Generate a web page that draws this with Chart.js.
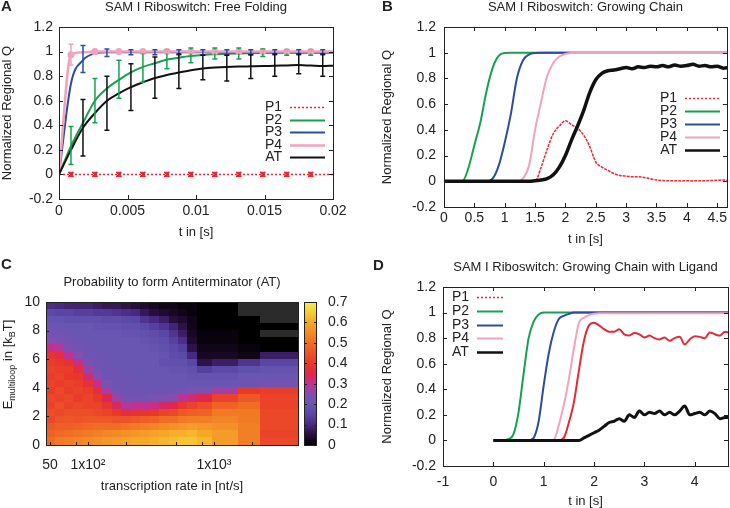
<!DOCTYPE html>
<html>
<head>
<meta charset="utf-8">
<script src="https://cdn.jsdelivr.net/npm/chart.js@4.4.0/dist/chart.umd.min.js"></script>
<style>
  body{margin:0;background:#fff;width:730px;height:508px;position:relative;overflow:hidden}
  .panel{position:absolute;width:365px;height:254px}
</style>
</head>
<body>
<div class="panel" style="left:0;top:0"><canvas id="chartA" width="365" height="254"></canvas></div>
<div class="panel" style="left:365px;top:0"><canvas id="chartB" width="365" height="254"></canvas></div>
<div class="panel" style="left:0;top:254px"><canvas id="chartC" width="365" height="254"></canvas></div>
<div class="panel" style="left:365px;top:254px"><canvas id="chartD" width="365" height="254"></canvas></div>
<script>
// ---- panel A: free folding, t in s, error bars on every other point
const tA = [0, 0.000875, 0.00175, 0.002625, 0.0035, 0.004375, 0.00525, 0.006125, 0.007, 0.007875, 0.00875, 0.009625,
  0.0105, 0.011375, 0.01225, 0.013125, 0.014, 0.014875, 0.01575, 0.016625, 0.0175, 0.018375, 0.01925, 0.02];
const p1A = [0,0,0,0,0,0,0,0,0,0,0,0,0,0,0,0,0,0,0,0,0,0,0,0];
const p2A = [0,0.23,0.42,0.6,0.7,0.77,0.83,0.875,0.905,0.935,0.95,0.963,0.972,0.978,0.982,0.985,0.987,0.989,0.99,0.99,0.99,0.99,0.99,0.99];
const p3A = [0,0.74,0.93,0.985,0.995,0.995,0.995,0.995,0.995,0.995,0.995,0.995,0.995,0.995,0.995,0.995,0.995,0.995,0.995,0.995,0.995,0.995,0.995,0.995];
const p4A = [0,0.975,0.995,1,1,1,1,1,1,1,1,1,1,1,1,1,1,1,1,1,1,1,1,1];
const atA = [0,0.2,0.38,0.5,0.6,0.66,0.71,0.75,0.785,0.81,0.83,0.848,0.862,0.87,0.875,0.878,0.88,0.882,0.885,0.887,0.89,0.886,0.882,0.885];
const p1LoA = [null,-0.015,null,-0.015,null,-0.015,null,-0.015,null,-0.015,null,-0.015,null,-0.015,null,-0.015,null,-0.015,null,-0.015,null,-0.015,null,null];
const p1HiA = [null,0.015,null,0.015,null,0.015,null,0.015,null,0.015,null,0.015,null,0.015,null,0.015,null,0.015,null,0.015,null,0.015,null,null];
const p2LoA = [null,0.08,null,0.42,null,0.62,null,0.75,null,0.86,null,0.91,null,0.94,null,0.94,null,0.96,null,0.97,null,0.97,null,null];
const p2HiA = [null,0.39,null,0.78,null,0.93,null,0.99,null,1.01,null,1.03,null,1.03,null,1.03,null,1.02,null,1.01,null,1.01,null,null];
const p3LoA = [null,null,0.83,null,0.96,null,0.975,null,0.975,null,0.975,null,0.975,null,0.975,null,0.975,null,0.975,null,0.975,null,0.975,null];
const p3HiA = [null,null,1.05,null,1.02,null,1.015,null,1.015,null,1.015,null,1.015,null,1.015,null,1.015,null,1.015,null,1.015,null,1.015,null];
const p4LoA = [null,0.89,null,0.98,null,0.99,null,0.99,null,0.99,null,0.99,null,0.99,null,0.99,null,0.99,null,0.99,null,0.99,null,null];
const p4HiA = [null,1.06,null,1.01,null,1.01,null,1.01,null,1.01,null,1.01,null,1.01,null,1.01,null,1.01,null,1.01,null,1.01,null,null];
const atLoA = [null,null,0.15,null,0.36,null,0.52,null,0.62,null,0.7,null,0.77,null,0.76,null,0.78,null,0.8,null,0.82,null,0.8,null];
const atHiA = [null,null,0.61,null,0.8,null,0.9,null,0.955,null,0.98,null,0.97,null,0.97,null,0.975,null,0.98,null,0.98,null,0.98,null];

// ---- panels B and D: growing chain, sampled every 0.1 s
const tGrow = [0,0.1,0.2,0.3,0.4,0.5,0.6,0.7,0.8,0.9,1,1.1,1.2,1.3,1.4,1.5,1.6,1.7,1.8,1.9,2,2.1,2.2,2.3,
  2.4,2.5,2.6,2.7,2.8,2.9,3,3.1,3.2,3.3,3.4,3.5,3.6,3.7,3.8,3.9,4,4.1,4.2,4.3,4.4,4.5,4.6,4.7];

const p1B = [0,0,0,0,0,0,0,0,0,0,0,0,0,0,0,0,0.11,0.25,0.37,0.43,0.47,0.44,0.41,0.36,
  0.27,0.15,0.11,0.085,0.06,0.045,0.04,0.035,0.035,0.03,0.02,0.01,0.006,0.004,0.005,0.003,0.004,0.003,0.005,0.004,0.006,0.008,0.01,0.006];
const p2B = [0,0,0,0,0.1,0.28,0.46,0.7,0.88,0.975,0.998,1,1,1,1,1,1,1,1,1,1,1,1,1,
  1,1,1,1,1,1,1,1,1,1,1,1,1,1,1,1,1,1,1,1,1,1,1,1];
const p3B = [0,0,0,0,0,0,0,0,0.02,0.12,0.3,0.52,0.8,0.94,0.985,0.998,1,1,1,1,1,1,1,1,
  1,1,1,1,1,1,1,1,1,1,1,1,1,1,1,1,1,1,1,1,1,1,1,1];
const p4B = [0,0,0,0,0,0,0,0,0,0,0,0,0,0.02,0.12,0.4,0.62,0.82,0.92,0.97,0.99,0.998,0.998,0.998,
  0.998,0.998,0.998,0.998,0.998,0.998,0.998,0.998,0.998,0.998,0.998,0.998,0.998,0.998,0.998,0.998,0.998,0.998,0.998,0.998,0.998,0.998,0.998,0.998];
const atB = [0,0,0,0,0,0,0,0,0,0,0,0,0,0,0,0.005,0.01,0.02,0.05,0.11,0.2,0.32,0.43,0.55,
  0.69,0.79,0.84,0.86,0.865,0.875,0.885,0.875,0.89,0.885,0.895,0.89,0.9,0.89,0.905,0.895,0.9,0.91,0.895,0.9,0.89,0.895,0.88,0.885];

const p1D = [0,0,0,0,0,0,0,0,0,0,0,0,0,0,0.02,0.14,0.3,0.55,0.78,0.9,0.92,0.9,0.87,0.85,
  0.85,0.87,0.83,0.82,0.84,0.83,0.805,0.82,0.8,0.79,0.805,0.78,0.8,0.81,0.75,0.79,0.815,0.81,0.8,0.845,0.83,0.82,0.85,0.84];
const p2D = [0,0,0,0.01,0.05,0.22,0.52,0.8,0.93,0.985,1,1,1,1,1,1,1,1,1,1,1,1,1,1,
  1,1,1,1,1,1,1,1,1,1,1,1,1,1,1,1,1,1,1,1,1,1,1,1];
const p3D = [0,0,0,0,0,0,0,0,0.02,0.15,0.43,0.68,0.85,0.95,0.975,0.99,1,1,1,1,1,1,1,1,
  1,1,1,1,1,1,1,1,1,1,1,1,1,1,1,1,1,1,1,1,1,1,1,1];
const p4D = [0,0,0,0,0,0,0,0,0,0,0,0,0.005,0.12,0.28,0.48,0.72,0.92,0.96,0.98,0.99,0.995,0.995,0.995,
  0.995,0.995,0.995,0.995,0.995,0.995,0.995,0.995,0.995,0.995,0.995,0.995,0.995,0.995,0.995,0.995,0.995,0.995,0.995,0.995,0.995,0.995,0.995,0.995];
const atD = [0,0,0,0,0,0,0,0,0,0,0,0,0,0,0,0,0,0,0.02,0.04,0.06,0.08,0.11,0.14,
  0.15,0.17,0.15,0.2,0.18,0.23,0.2,0.22,0.21,0.23,0.2,0.22,0.2,0.23,0.27,0.2,0.21,0.22,0.2,0.23,0.21,0.17,0.18,0.18];

// ---- panel C: probability to form AT
// bin edges of the transcription rate (nt/s) and of E_multiloop (kBT, top to bottom)
const rateEdges = [46.4,55,65,77,92,110,130,155,185,220,260,310,370,440,520,620,740,980,1550,2320,4640];
const energyEdges = [10,9.5,9,8.5,8,7.5,7,6.5,6,5.5,5,4.5,4,3.5,3,2.5,2,1.5,1,0.5,0];
// one array per rate bin, values from E=10 down to E=0 (null = no data)
const atProb = [
  [0.11,0.16,0.19,0.21,0.22,0.25,0.31,0.39,0.41,0.42,0.41,0.42,0.41,0.43,0.42,0.44,0.43,0.46,0.48,0.5],
  [0.10,0.15,0.19,0.2,0.22,0.24,0.29,0.37,0.4,0.41,0.42,0.41,0.43,0.42,0.44,0.43,0.45,0.47,0.49,0.52],
  [0.09,0.15,0.18,0.2,0.21,0.22,0.24,0.3,0.38,0.41,0.4,0.42,0.41,0.43,0.42,0.44,0.46,0.47,0.5,0.53],
  [0.09,0.14,0.18,0.2,0.2,0.21,0.22,0.25,0.31,0.37,0.4,0.41,0.42,0.41,0.43,0.44,0.45,0.48,0.51,0.54],
  [0.09,0.14,0.18,0.2,0.2,0.2,0.21,0.21,0.23,0.27,0.32,0.38,0.41,0.42,0.42,0.44,0.46,0.49,0.52,0.55],
  [0.08,0.13,0.18,0.19,0.2,0.2,0.2,0.21,0.21,0.22,0.25,0.31,0.37,0.4,0.42,0.43,0.46,0.5,0.53,0.56],
  [0.07,0.13,0.17,0.19,0.2,0.2,0.2,0.2,0.21,0.21,0.21,0.23,0.28,0.34,0.39,0.42,0.46,0.5,0.54,0.57],
  [0.07,0.12,0.17,0.19,0.2,0.2,0.2,0.2,0.2,0.21,0.21,0.21,0.22,0.27,0.33,0.4,0.45,0.5,0.55,0.58],
  [0.06,0.11,0.16,0.18,0.19,0.2,0.2,0.2,0.2,0.2,0.21,0.21,0.21,0.22,0.29,0.37,0.45,0.51,0.56,0.59],
  [0.05,0.1,0.15,0.18,0.19,0.2,0.2,0.2,0.2,0.2,0.2,0.21,0.21,0.22,0.3,0.38,0.46,0.52,0.57,0.6],
  [0.04,0.07,0.12,0.16,0.18,0.19,0.2,0.2,0.2,0.2,0.2,0.2,0.21,0.22,0.3,0.39,0.47,0.53,0.58,0.6],
  [0.03,0.05,0.1,0.14,0.17,0.18,0.19,0.2,0.2,0.2,0.2,0.2,0.21,0.23,0.31,0.4,0.48,0.54,0.59,0.61],
  [0.02,0.04,0.08,0.12,0.15,0.17,0.18,0.19,0.18,0.2,0.2,0.2,0.21,0.24,0.33,0.42,0.5,0.55,0.6,0.62],
  [0.02,0.03,0.05,0.09,0.12,0.14,0.16,0.17,0.18,0.19,0.2,0.2,0.21,0.25,0.35,0.43,0.5,0.56,0.61,0.63],
  [0.01,0.02,0.04,0.06,0.08,0.11,0.14,0.16,0.18,0.19,0.2,0.2,0.22,0.3,0.4,0.46,0.52,0.57,0.61,0.64],
  [0.01,0.01,0.02,0.02,0.03,0.04,0.06,0.1,0.15,0.18,0.19,0.2,0.23,0.32,0.42,0.47,0.53,0.58,0.62,0.64],
  [0,0,0,0,0.01,0.01,0.02,0.03,0.06,0.14,0.19,0.2,0.24,0.35,0.44,0.48,0.53,0.57,0.6,0.62],
  [0,0,0,0,0.01,0.01,0.02,0.03,0.08,0.16,0.19,0.2,0.28,0.42,0.48,0.52,0.54,0.56,0.58,0.58],
  [null,null,0,0,0,0,0.01,0.02,0.12,0.18,0.2,0.21,0.4,0.46,0.5,0.52,0.52,0.53,0.53,0.53],
  [null,null,null,0,null,0,0,0.08,0.15,0.19,0.2,0.22,0.41,0.42,0.42,0.43,0.43,0.43,0.42,0.43]
];
const rateTickMarks = [50,80,100,200,500,800,1000,2000];
const rateLabels = {50:'50', 100:'1x10²', 1000:'1x10³'};
// colour map of the AT probability
const paletteStops = [
  [0.00,[0,0,0]],[0.05,[40,14,60]],[0.10,[72,40,130]],[0.15,[90,70,165]],[0.20,[104,86,178]],
  [0.25,[130,78,176]],[0.30,[190,50,150]],[0.34,[222,38,80]],[0.40,[232,56,42]],
  [0.50,[240,110,36]],[0.60,[245,168,40]],[0.70,[248,238,72]]
];

const RED = '#e22a38', GREEN = '#16a152', BLUE = '#2c4c9e', PINK = '#f2a3bb', BLACK = '#111';
const FONT = '"Liberation Sans", Arial, Helvetica, sans-serif';
const TICK = {size: 14};
Chart.defaults.font.family = FONT;
Chart.defaults.font.size = 13;
Chart.defaults.color = '#222';

function colorAt(v){
  if (v <= paletteStops[0][0]) return 'rgb(0,0,0)';
  for (let i = 1; i < paletteStops.length; i++) {
    const [v1, c1] = paletteStops[i];
    if (v <= v1) {
      const [v0, c0] = paletteStops[i-1];
      const f = (v - v0) / (v1 - v0);
      return 'rgb(' + c0.map((c,k) => Math.round(c + (c1[k]-c)*f)).join(',') + ')';
    }
  }
  return 'rgb(' + paletteStops[paletteStops.length-1][1].join(',') + ')';
}

// titles and panel letters
const panelTitle = {
  id: 'panelTitle',
  afterDraw(chart, args, o){
    const {ctx, chartArea: a} = chart;
    ctx.save();
    ctx.fillStyle = '#222';
    ctx.textBaseline = 'middle';
    ctx.font = '13px ' + FONT;
    ctx.textAlign = 'center';
    ctx.fillText(o.text, (a.left + a.right) / 2, o.y);
    ctx.font = 'bold 15px ' + FONT;
    ctx.textAlign = 'left';
    ctx.fillText(o.letter, o.lx, o.ly);
    ctx.restore();
  }
};

// key drawn inside the plot, one row per dataset
const boxLegend = {
  id: 'boxLegend',
  afterDraw(chart, args, o){
    if (!o.rows) return;
    const ctx = chart.ctx;
    ctx.save();
    ctx.font = '14px ' + FONT;
    ctx.fillStyle = '#222';
    ctx.textBaseline = 'middle';
    ctx.textAlign = o.align;
    chart.data.datasets.forEach((ds, i) => {
      const y = o.rows[i];
      ctx.fillText(ds.label, o.textX, y);
      ctx.strokeStyle = ds.borderColor;
      ctx.lineWidth = ds.keyWidth || ds.borderWidth;
      ctx.setLineDash(ds.keyDash || []);
      ctx.beginPath();
      ctx.moveTo(o.x0, y + 0.5);
      ctx.lineTo(o.x1, y + 0.5);
      ctx.stroke();
      ctx.setLineDash([]);
    });
    ctx.restore();
  }
};

// gnuplot style border with inward ticks
const frameTicks = {
  id: 'frameTicks',
  afterDatasetsDraw(chart, args, o){
    const {ctx, chartArea: a, scales} = chart;
    const len = o.len || 4;
    const xs = o.xTicks || scales.x.ticks.map(t => t.value);
    const ys = o.yTicks || scales.y.ticks.map(t => t.value);
    ctx.save();
    ctx.strokeStyle = '#222';
    ctx.lineWidth = 1;
    ctx.beginPath();
    xs.forEach(v => {
      const px = Math.round(scales.x.getPixelForValue(v)) + 0.5;
      ctx.moveTo(px, a.bottom); ctx.lineTo(px, a.bottom - len);
      if (o.mirror !== false) { ctx.moveTo(px, a.top); ctx.lineTo(px, a.top + len); }
    });
    ys.forEach(v => {
      const py = Math.round(scales.y.getPixelForValue(v)) + 0.5;
      ctx.moveTo(a.left, py); ctx.lineTo(a.left + len, py);
      if (o.mirror !== false) { ctx.moveTo(a.right, py); ctx.lineTo(a.right - len, py); }
    });
    ctx.stroke();
    ctx.strokeRect(Math.round(a.left) + 0.5, Math.round(a.top) + 0.5,
      Math.round(a.right - a.left), Math.round(a.bottom - a.top));
    ctx.restore();
  }
};

// vertical error bars read from errLo / errHi of each dataset
const errorBars = {
  id: 'errorBars',
  afterDatasetsDraw(chart){
    const {ctx, scales: {x, y}} = chart;
    ctx.save();
    ctx.lineWidth = 1.5;
    chart.data.datasets.forEach(ds => {
      if (!ds.errLo) return;
      ctx.strokeStyle = ds.borderColor;
      ctx.beginPath();
      ds.errLo.forEach((lo, j) => {
        if (lo == null) return;
        const px = x.getPixelForValue(ds.data[j].x);
        const y0 = y.getPixelForValue(lo), y1 = y.getPixelForValue(ds.errHi[j]);
        ctx.moveTo(px, y0); ctx.lineTo(px, y1);
        ctx.moveTo(px - 2.5, y0); ctx.lineTo(px + 2.5, y0);
        ctx.moveTo(px - 2.5, y1); ctx.lineTo(px + 2.5, y1);
      });
      ctx.stroke();
    });
    ctx.restore();
  }
};

function series(label, ts, ys, color, extra){
  return Object.assign({
    label, borderColor: color, backgroundColor: color,
    data: ts.map((t, i) => ({x: t, y: ys[i]})),
    borderWidth: 2, pointRadius: 0, fill: false,
    cubicInterpolationMode: 'monotone'
  }, extra);
}

const oneDec = v => String(Math.round(v * 10) / 10);

function lineChart(id, c){
  return new Chart(document.getElementById(id), {
    type: 'line',
    data: {datasets: c.datasets},
    options: {
      responsive: false, animation: false, devicePixelRatio: 1,
      layout: {padding: {top: c.top, right: c.right, left: 0, bottom: 0}},
      plugins: {
        legend: {display: false}, tooltip: {enabled: false},
        panelTitle: c.title, boxLegend: c.key, frameTicks: {}
      },
      scales: {
        x: {
          type: 'linear', min: c.xMin, max: c.xMax,
          afterFit: s => { s.height = c.xh; },
          grid: {display: false, drawTicks: false}, border: {display: false},
          ticks: {stepSize: c.xStep, includeBounds: false, autoSkip: false, maxRotation: 0,
            padding: c.xPad, callback: c.xFmt, font: TICK},
          title: {display: true, text: 't in [s]', padding: {top: 0, bottom: c.xTitlePad}}
        },
        y: {
          min: -0.2, max: 1.2,
          afterFit: s => { s.width = c.yw; },
          grid: {display: false, drawTicks: false}, border: {display: false},
          ticks: {stepSize: 0.2, padding: c.yPad, callback: oneDec, font: TICK},
          title: {display: true, text: 'Normalized Regional Q', padding: {top: c.yTitlePad, bottom: 0}}
        }
      }
    },
    plugins: [panelTitle, boxLegend, frameTicks, errorBars]
  });
}

// A
const markerA = arr => (ctx => arr[ctx.dataIndex] != null ? 3.5 : 0);
lineChart('chartA', {
  top: 27, right: 32, yw: 59, xh: 55, xMin: 0, xMax: 0.02, xStep: 0.005,
  xFmt: v => String(+v.toFixed(3)), xPad: 4, xTitlePad: 14, yPad: 6, yTitlePad: 0,
  title: {text: 'SAM I Riboswitch: Free Folding', y: 7, letter: 'A', lx: 1, ly: 7},
  key: {align: 'right', textX: 282, x0: 290, x1: 325, rows: [107, 120, 132, 145, 157]},
  datasets: [
    series('P1', tA, p1A, RED, {order: 5, borderWidth: 1.5, borderDash: [2, 2], keyDash: [2, 2],
      errLo: p1LoA, errHi: p1HiA, pointStyle: 'crossRot', pointRadius: markerA(p1LoA), pointBorderWidth: 1.5}),
    series('P2', tA, p2A, GREEN, {order: 4, errLo: p2LoA, errHi: p2HiA}),
    series('P3', tA, p3A, BLUE, {order: 3, errLo: p3LoA, errHi: p3HiA}),
    series('P4', tA, p4A, PINK, {order: 2, borderWidth: 2.5, errLo: p4LoA, errHi: p4HiA,
      pointRadius: markerA(p4LoA), pointBorderWidth: 0}),
    series('AT', tA, atA, BLACK, {order: 1, errLo: atLoA, errHi: atHiA})
  ]
});

// B
lineChart('chartB', {
  top: 27, right: 2, yw: 79, xh: 47, xMin: 0, xMax: 4.66, xStep: 0.5,
  xFmt: oneDec, xPad: 3, xTitlePad: 7, yPad: 8, yTitlePad: 15,
  title: {text: 'SAM I Riboswitch: Growing Chain', y: 7, letter: 'B', lx: 17, ly: 7},
  key: {align: 'right', textX: 312, x0: 320, x1: 355, rows: [98, 111, 124, 137, 150]},
  datasets: [
    series('P1', tGrow, p1B, RED, {order: 5, borderWidth: 1.5, borderDash: [3, 1], keyDash: [2, 2], keyWidth: 1.5}),
    series('P2', tGrow, p2B, GREEN, {order: 4}),
    series('P3', tGrow, p3B, BLUE, {order: 3}),
    series('P4', tGrow, p4B, PINK, {order: 2}),
    series('AT', tGrow, atB, BLACK, {order: 1, borderWidth: 3.5, keyWidth: 2.5})
  ]
});

// D
lineChart('chartD', {
  top: 33, right: 2, yw: 78, xh: 42, xMin: -1, xMax: 4.66, xStep: 1,
  xFmt: oneDec, xPad: 8, xTitlePad: -1, yPad: 7, yTitlePad: 15,
  title: {text: 'SAM I Riboswitch: Growing Chain with Ligand', y: 13, letter: 'D', lx: 8, ly: 12},
  key: {align: 'left', textX: 87, x0: 112, x1: 138, rows: [43, 57, 71, 84, 98]},
  datasets: [
    series('P1', tGrow, p1D, RED, {order: 5, borderWidth: 2, keyDash: [2, 2], keyWidth: 1.5}),
    series('P2', tGrow, p2D, GREEN, {order: 4}),
    series('P3', tGrow, p3D, BLUE, {order: 3}),
    series('P4', tGrow, p4D, PINK, {order: 2}),
    series('AT', tGrow, atD, BLACK, {order: 1, borderWidth: 3, keyWidth: 2.5})
  ]
});

// C: heatmap cells, colour bar and the y title with subscripts
const heatmap = {
  id: 'heatmap',
  beforeDatasetsDraw(chart){
    const {ctx, scales: {x, y}} = chart;
    ctx.save();
    atProb.forEach((col, c) => {
      const x0 = Math.floor(x.getPixelForValue(rateEdges[c]));
      const x1 = Math.ceil(x.getPixelForValue(rateEdges[c + 1]));
      col.forEach((v, r) => {
        const y0 = Math.floor(y.getPixelForValue(energyEdges[r]));
        const y1 = Math.ceil(y.getPixelForValue(energyEdges[r + 1]));
        ctx.fillStyle = v == null ? '#2b2b2b' : colorAt(v);
        ctx.fillRect(x0, y0, x1 - x0, y1 - y0);
      });
    });
    ctx.restore();
  },
  afterDraw(chart){
    const {ctx, chartArea: a, scales: {cb}} = chart;
    const bx = a.right + 6, bw = 13;
    const yTop = cb.getPixelForValue(0.7), yBot = cb.getPixelForValue(0);
    ctx.save();
    const g = ctx.createLinearGradient(0, yBot, 0, yTop);
    paletteStops.forEach(([v, c]) => g.addColorStop(v / 0.7, 'rgb(' + c.join(',') + ')'));
    ctx.fillStyle = g;
    ctx.fillRect(bx, yTop, bw, yBot - yTop);
    ctx.strokeStyle = '#222';
    ctx.lineWidth = 1;
    ctx.strokeRect(Math.round(bx) + 0.5, Math.round(yTop) + 0.5, bw - 1, Math.round(yBot - yTop));
    ctx.beginPath();
    cb.ticks.forEach(t => {
      const py = Math.round(cb.getPixelForValue(t.value)) + 0.5;
      ctx.moveTo(bx, py); ctx.lineTo(bx + 3, py);
      ctx.moveTo(bx + bw, py); ctx.lineTo(bx + bw - 3, py);
    });
    ctx.stroke();
    // y title: E_multiloop in [k_B T]
    const parts = [['E', 13, 0], ['multiloop', 9, 3], [' in [k', 13, 0], ['B', 9, 3], ['T]', 13, 0]];
    ctx.fillStyle = '#222';
    ctx.textBaseline = 'alphabetic';
    ctx.textAlign = 'left';
    let total = 0;
    parts.forEach(p => { ctx.font = p[1] + 'px ' + FONT; total += ctx.measureText(p[0]).width; });
    ctx.translate(0, (a.top + a.bottom) / 2 - 9);
    ctx.rotate(-Math.PI / 2);
    let cx = -total / 2;
    parts.forEach(p => {
      ctx.font = p[1] + 'px ' + FONT;
      ctx.fillText(p[0], cx, 12 + p[2]);
      cx += ctx.measureText(p[0]).width;
    });
    ctx.restore();
  }
};

new Chart(document.getElementById('chartC'), {
  type: 'scatter',
  data: {datasets: [{data: []}]},
  options: {
    responsive: false, animation: false, devicePixelRatio: 1,
    layout: {padding: {top: 48, right: 0, left: 0, bottom: 0}},
    plugins: {
      legend: {display: false}, tooltip: {enabled: false},
      panelTitle: {text: 'Probability to form Antiterminator (AT)', y: 28, letter: 'C', lx: 1, ly: 11},
      frameTicks: {xTicks: rateTickMarks, yTicks: [0, 2, 4, 6, 8, 10], mirror: false, len: 3}
    },
    scales: {
      x: {
        type: 'logarithmic', min: 46.4, max: 4640,
        afterFit: s => { s.height = 63; },
        afterBuildTicks: s => { s.ticks = Object.keys(rateLabels).map(v => ({value: +v})); },
        grid: {display: false, drawTicks: false}, border: {display: false},
        ticks: {autoSkip: false, maxRotation: 0, padding: 12, callback: v => rateLabels[v], font: TICK},
        title: {display: true, text: 'transcription rate in [nt/s]', padding: {top: 0, bottom: 14}}
      },
      y: {
        min: 0, max: 10,
        afterFit: s => { s.width = 46; },
        grid: {display: false, drawTicks: false}, border: {display: false},
        ticks: {stepSize: 2, padding: 6, font: TICK}
      },
      cb: {
        type: 'linear', position: 'right', min: 0, max: 0.7,
        afterFit: s => { s.width = 67; },
        grid: {display: false, drawTicks: false}, border: {display: false},
        ticks: {stepSize: 0.1, padding: 30, callback: oneDec, font: TICK}
      }
    }
  },
  plugins: [heatmap, panelTitle, frameTicks]
});
</script>
</body>
</html>
